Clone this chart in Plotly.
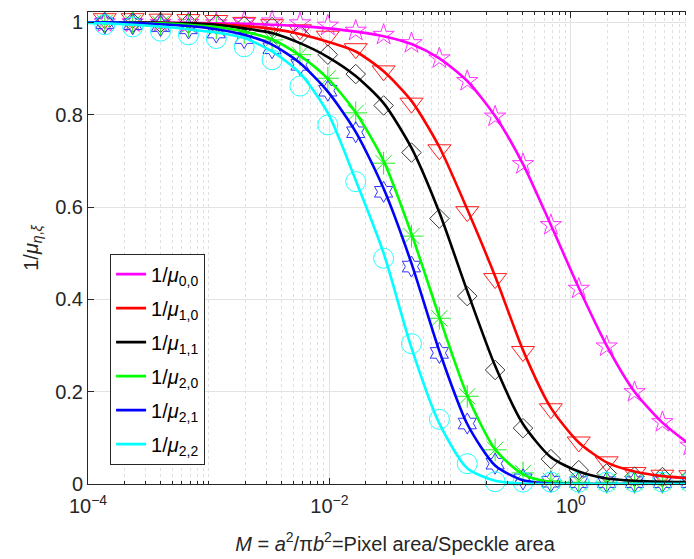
import plotly.graph_objects as go

# ---------------- data ----------------
M_pts = [1.377e-4, 2.344e-4, 3.990e-4, 6.792e-4, 1.156e-3, 1.968e-3, 3.350e-3,
         5.702e-3, 9.705e-3, 1.652e-2, 2.812e-2, 4.786e-2, 8.147e-2, 0.1387,
         0.2360, 0.4018, 0.6839, 1.164, 1.982, 3.373, 5.741, 9.772]

# line (theory) x positions: left edge + marker positions + right edge
M_line = [1.0e-4] + M_pts + [10.5]

labels = ["1/<i>μ</i><sub>0,0</sub>", "1/<i>μ</i><sub>1,0</sub>", "1/<i>μ</i><sub>1,1</sub>",
          "1/<i>μ</i><sub>2,0</sub>", "1/<i>μ</i><sub>2,1</sub>", "1/<i>μ</i><sub>2,2</sub>"]

line_00 = [1.0, 1.0, 1.0, 0.999, 0.999, 0.998, 0.997, 0.995, 0.992, 0.987, 0.980, 0.970, 0.953,
           0.922, 0.873, 0.797, 0.693, 0.561, 0.425, 0.300, 0.200, 0.133, 0.085, 0.080]
mark_00 = [1.000, 1.000, 0.999, 0.999, 0.998, 1.001, 1.002, 0.998, 0.993, 0.982, 0.973,
           0.955, 0.922, 0.873, 0.796, 0.693, 0.561, 0.423, 0.298, 0.199, 0.134, 0.083]

line_10 = [1.0, 1.0, 1.0, 0.999, 0.998, 0.996, 0.992, 0.986, 0.975, 0.958, 0.937, 0.894, 0.830,
           0.730, 0.595, 0.450, 0.290, 0.165, 0.090, 0.047, 0.027, 0.017, 0.012, 0.011]
mark_10 = [1.008, 1.008, 1.007, 1.006, 1.004, 1.000, 0.995, 0.984, 0.970, 0.943, 0.895,
           0.825, 0.724, 0.590, 0.445, 0.287, 0.163, 0.091, 0.048, 0.025, 0.019, 0.018]

line_11 = [1.0, 1.0, 1.0, 0.999, 0.998, 0.995, 0.987, 0.977, 0.955, 0.925, 0.884, 0.825, 0.728,
           0.588, 0.418, 0.256, 0.130, 0.058, 0.027, 0.012, 0.007, 0.005, 0.004, 0.004]
mark_11 = [1.000, 1.000, 0.999, 0.998, 0.996, 0.992, 0.990, 0.973, 0.930, 0.888, 0.820,
           0.718, 0.575, 0.407, 0.247, 0.121, 0.054, 0.030, 0.023, 0.016, 0.015, 0.015]

line_20 = [1.0, 1.0, 0.999, 0.998, 0.995, 0.990, 0.980, 0.963, 0.928, 0.878, 0.805, 0.700,
           0.542, 0.362, 0.192, 0.075, 0.021, 0.004, 0.001, 0.0, 0.0, 0.0, 0.0, 0.0]
mark_20 = [0.999, 0.998, 0.996, 0.993, 0.988, 0.978, 0.962, 0.930, 0.879, 0.804, 0.695,
           0.537, 0.359, 0.190, 0.074, 0.024, 0.007, 0.004, 0.004, 0.004, 0.004, 0.004]

line_21 = [1.0, 1.0, 0.999, 0.996, 0.992, 0.985, 0.973, 0.952, 0.912, 0.850, 0.763, 0.640,
           0.478, 0.288, 0.130, 0.040, 0.008, 0.001, 0.0, 0.0, 0.0, 0.0, 0.0, 0.0]
mark_21 = [0.998, 0.996, 0.992, 0.987, 0.978, 0.966, 0.944, 0.908, 0.852, 0.762, 0.633,
           0.471, 0.284, 0.131, 0.044, 0.010, 0.005, 0.004, 0.004, 0.004, 0.004, 0.004]

line_22 = [0.999, 0.998, 0.995, 0.991, 0.985, 0.978, 0.966, 0.937, 0.890, 0.804, 0.658, 0.500,
           0.295, 0.131, 0.034, 0.007, 0.001, 0.0, 0.0, 0.0, 0.0, 0.0, 0.0, 0.0]
mark_22 = [0.995, 0.990, 0.981, 0.973, 0.965, 0.947, 0.919, 0.862, 0.778, 0.655, 0.489,
           0.304, 0.140, 0.044, 0.005, 0.004, 0.004, 0.004, 0.004, 0.004, 0.004, 0.004]

x_tickvals = [1e-4, 1e-2, 1e0]
x_ticktext = ["10<sup>−4</sup>", "10<sup>−2</sup>", "10<sup>0</sup>"]
y_tickvals = [0, 0.2, 0.4, 0.6, 0.8, 1.0]
y_ticktext = ["0", "0.2", "0.4", "0.6", "0.8", "1"]

# ---------------- styling ----------------
lines = [line_00, line_10, line_11, line_20, line_21, line_22]
marks = [mark_00, mark_10, mark_11, mark_20, mark_21, mark_22]
colors = ["#FF00FF", "#FF0000", "#000000", "#00FF00", "#0000FF", "#00FFFF"]
mcolors = ["#FF33FF", "#FF2020", "#383838", "#22EE22", "#3333FF", "#22FFFF"]
symbols = ["star-open", "triangle-down-open", "diamond-open", "asterisk-open",
           "hexagram-open", "circle-open"]
sizes = [16, 20, 15, 19, 16, 20]

FONT = "Liberation Sans, Arial, Helvetica, sans-serif"

fig = go.Figure()
for i in range(6):
    fig.add_trace(go.Scatter(
        x=M_pts, y=marks[i], mode="markers", showlegend=False, cliponaxis=False,
        marker=dict(symbol=symbols[i], size=sizes[i], color=mcolors[i],
                    line=dict(width=1, color=mcolors[i]))))
for i in range(6):
    fig.add_trace(go.Scatter(
        x=M_line, y=lines[i], mode="lines", name=labels[i], legendgroup="g%d" % i,
        line=dict(color=colors[i], width=2.6, shape="spline", smoothing=0.7)))

minor_vals = [d * 10.0 ** e for e in range(-4, 2) for d in range(1, 10) if not (d == 1 and e % 2 == 0)]

# the page body adds an 8px offset, so margins are reduced accordingly
fig.update_layout(
    width=694, height=559,
    margin=dict(l=80, r=0, t=4, b=83, autoexpand=False),
    paper_bgcolor="white", plot_bgcolor="white",
    font=dict(family=FONT, size=18, color="#262626"),
    showlegend=True,
    legend=dict(x=0.036, y=0.488, xanchor="left", yanchor="top",
                bgcolor="white", bordercolor="#262626", borderwidth=1,
                font=dict(family=FONT, size=20, color="#000000"),
                tracegroupgap=5, itemwidth=30),
    xaxis=dict(type="log", range=[-4, 1.087], tickmode="array", automargin=False,
               tickvals=x_tickvals, ticktext=x_ticktext,
               ticks="inside", ticklen=6, tickcolor="#262626", ticklabelstandoff=4,
               showline=True, linecolor="#262626", linewidth=1, mirror="allticks",
               showgrid=True, gridcolor="#E3E3E3", gridwidth=1, zeroline=False,
               tickfont=dict(size=20, color="#262626"),
               minor=dict(tickmode="array", tickvals=minor_vals, ticks="inside", ticklen=3,
                          tickcolor="#262626", showgrid=True, gridcolor="#E0E0E0",
                          griddash="dot", gridwidth=1),
               title=dict(text="<i>M</i> = <i>a</i><sup>2</sup>/π<i>b</i><sup>2</sup>=Pixel area/Speckle area",
                          font=dict(size=20, color="#262626"), standoff=20)),
    yaxis=dict(range=[0, 1.0225], tickmode="array", tickvals=y_tickvals, ticktext=y_ticktext,
               automargin=False,
               ticks="inside", ticklen=6, tickcolor="#262626", ticklabelstandoff=0,
               showline=True, linecolor="#262626", linewidth=1, mirror=False,
               showgrid=True, gridcolor="#E3E3E3", gridwidth=1, zeroline=False,
               tickfont=dict(size=20, color="#262626"),
               title=dict(text="1/<i>μ</i><sub><i>η</i>,<i>ξ</i></sub>",
                          font=dict(size=20, color="#262626"), standoff=11)),
)

fig.write_html("out.html")
